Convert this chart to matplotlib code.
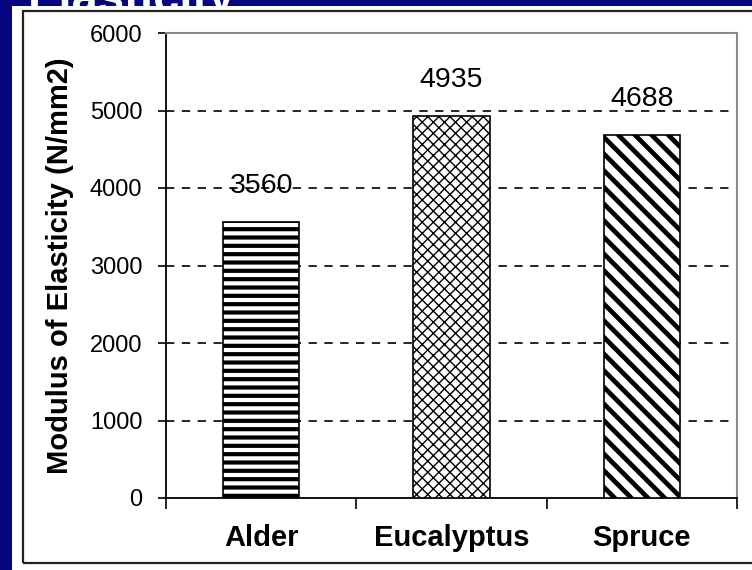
import matplotlib
matplotlib.use("Agg")
import matplotlib.pyplot as plt
from matplotlib.patches import Rectangle

# Data
species = ["Alder", "Eucalyptus", "Spruce"]
moe = [3560, 4935, 4688]
yticks = [0, 1000, 2000, 3000, 4000, 5000, 6000]
hatches = ["--", "xxx", "\\\\"]
hatch_widths = [3.0, 1.0, 3.4]

navy = "#04047f"
plt.rcParams["font.family"] = ["Liberation Sans", "DejaVu Sans"]

W, H = 752, 570
fig = plt.figure(figsize=(W / 100, H / 100), dpi=100, facecolor=navy)

# white slide panel and its black frame
fig.patches.append(Rectangle((12 / W, 0), 1, 1 - 6 / H, transform=fig.transFigure,
                             facecolor="white", edgecolor="none", zorder=0))
fig.text(28 / W, 1 - 12 / H, "Elasticity", color="white", fontsize=34,
         fontweight="bold", va="baseline", ha="left", zorder=1)
fig.patches.append(Rectangle((23 / W, 1 - 563 / H), 1, (563 - 11) / H,
                             transform=fig.transFigure, fill=False,
                             edgecolor="#222222", linewidth=1.6, zorder=2))

ax = fig.add_axes([166 / W, 1 - 498 / H, (737 - 166) / W, (498 - 33) / H])
ax.set_zorder(5)
ax.set_facecolor("white")

x = range(len(species))
for i in x:
    with plt.rc_context({"hatch.linewidth": hatch_widths[i]}):
        b = ax.bar(i, moe[i], width=0.4, color="white", edgecolor="black",
                   hatch=hatches[i], linewidth=1.2, zorder=3)
        for p in b:
            if hasattr(p, "set_hatch_linewidth"):
                p.set_hatch_linewidth(hatch_widths[i])
    ax.annotate(str(moe[i]), (i, moe[i]), xytext=(0, 36), textcoords="offset pixels",
                ha="center", va="center", fontsize=20.5, color="black", zorder=4)

ax.set_xlim(-0.5, 2.5)
ax.set_ylim(0, 6000)
ax.set_yticks(yticks)
ax.set_yticklabels([str(v) for v in yticks], fontsize=17)
ax.set_xticks(list(x))
ax.set_xticklabels(species, fontsize=21, fontweight="bold")
ax.set_xticks([-0.5, 0.5, 1.5, 2.5], minor=True)
ax.tick_params(axis="x", which="major", length=0, pad=19)
ax.tick_params(axis="x", which="minor", length=8, width=1.2, direction="out")
ax.tick_params(axis="y", length=6, width=1.2, direction="out", pad=11)

for v in yticks[1:-1]:
    ax.axhline(v, color="black", linewidth=1.2, linestyle=(0, (5, 4.5)), zorder=1)

ax.spines["left"].set_linewidth(1.3)
ax.spines["bottom"].set_linewidth(1.3)
ax.spines["top"].set_color("#8a8a8a")
ax.spines["right"].set_color("#8a8a8a")
ax.spines["top"].set_linewidth(1.5)
ax.spines["right"].set_linewidth(1.5)

ax.set_ylabel("Modulus of Elasticity (N/mm2)", fontsize=21, fontweight="bold", labelpad=11)

fig.savefig("out.png", dpi=100, facecolor=navy)
